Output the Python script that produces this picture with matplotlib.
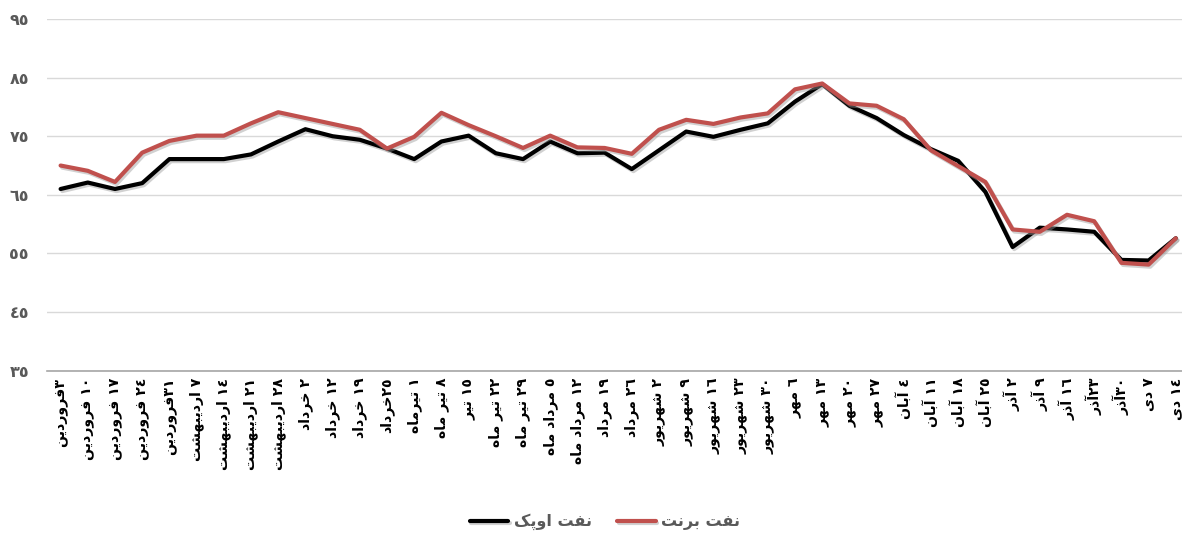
import re
import numpy as np
import matplotlib
matplotlib.use("Agg")
import matplotlib.pyplot as plt
import matplotlib.patheffects as pe

# weekly dates (1400), logical order
dates = [
    "٣فروردین", "١٠ فروردین", "١٧ فروردین", "٢٤ فروردین", "٣١فروردین",
    "٧ اردیبهشت", "١٤ اردیبهشت", "٢١ اردیبهشت", "٢٨ اردیبهشت",
    "٢ خرداد", "١٢ خرداد", "١٩ خرداد", "٢٥خرداد",
    "١ تیرماه", "٨ تیر ماه", "١٥ تیر", "٢٢ تیر ماه", "٢٩ تیر ماه",
    "٥ مرداد ماه", "١٢ مرداد ماه", "١٩ مرداد", "٢٦ مرداد",
    "٢ شهریور", "٩ شهریور", "١٦ شهریور", "٢٣ شهریور", "٣٠ شهریور",
    "٦ مهر", "١٣ مهر", "٢٠ مهر", "٢٧ مهر",
    "٤ آبان", "١١ آبان", "١٨ آبان", "٢٥ آبان",
    "٢ آذر", "٩ آذر", "١٦ آذر", "٢٣آذر", "٣٠آذر",
    "٧ دی", "١٤ دی",
]

opec = [66.0, 67.1, 66.0, 67.0, 71.1, 71.1, 71.1, 71.9, 74.1, 76.2,
        75.0, 74.4, 72.9, 71.1, 74.1, 75.1, 72.1, 71.1, 74.1, 72.1,
        72.2, 69.4, 72.6, 75.8, 74.9, 76.1, 77.2, 80.9, 83.9, 80.2,
        78.1, 75.2, 72.8, 70.8, 65.5, 56.1, 59.4, 59.1, 58.7, 53.9,
        53.8, 57.6]

brent = [70.0, 69.1, 67.2, 72.2, 74.2, 75.1, 75.1, 77.2, 79.1, 78.1,
         77.1, 76.1, 72.9, 74.9, 79.0, 76.9, 75.0, 73.0, 75.1, 73.1,
         73.0, 72.0, 76.1, 77.8, 77.1, 78.2, 78.9, 83.0, 84.0, 80.6,
         80.2, 77.9, 72.6, 69.9, 67.2, 59.1, 58.7, 61.6, 60.5, 53.4,
         53.1, 57.6]

yticks = [35, 45, 55, 65, 75, 85, 95]
ytick_labels = ["٣٥", "٤٥", "٥٥", "٦٥", "٧٥", "٨٥", "٩٥"]
names = ["نفت اوپک", "نفت برنت"]

# --- minimal persian shaping (matplotlib has no bidi / joining) ---
FORMS = {
    'ا': ('\uFE8D', '\uFE8E', None, None),
    'آ': ('\uFE81', '\uFE82', None, None),
    'ب': ('\uFE8F', '\uFE90', '\uFE91', '\uFE92'),
    'پ': ('\uFB56', '\uFB57', '\uFB58', '\uFB59'),
    'ت': ('\uFE95', '\uFE96', '\uFE97', '\uFE98'),
    'خ': ('\uFEA5', '\uFEA6', '\uFEA7', '\uFEA8'),
    'د': ('\uFEA9', '\uFEAA', None, None),
    'ذ': ('\uFEAB', '\uFEAC', None, None),
    'ر': ('\uFEAD', '\uFEAE', None, None),
    'ز': ('\uFEAF', '\uFEB0', None, None),
    'ش': ('\uFEB5', '\uFEB6', '\uFEB7', '\uFEB8'),
    'ف': ('\uFED1', '\uFED2', '\uFED3', '\uFED4'),
    'م': ('\uFEE1', '\uFEE2', '\uFEE3', '\uFEE4'),
    'ن': ('\uFEE5', '\uFEE6', '\uFEE7', '\uFEE8'),
    'ه': ('\uFEE9', '\uFEEA', '\uFEEB', '\uFEEC'),
    'و': ('\uFEED', '\uFEEE', None, None),
    'ک': ('\uFB8E', '\uFB8F', '\uFB90', '\uFB91'),
    'ی': ('\uFBFC', '\uFBFD', '\uFBFE', '\uFBFF'),
}


def shape(s):
    out = []
    for i, c in enumerate(s):
        if c not in FORMS:
            out.append(c)
            continue
        iso, fin, ini, med = FORMS[c]
        prev = s[i - 1] if i > 0 else None
        nxt = s[i + 1] if i + 1 < len(s) else None
        jp = prev in FORMS and FORMS[prev][2] is not None
        jn = nxt in FORMS and ini is not None
        if jp and jn:
            out.append(med)
        elif jp:
            out.append(fin)
        elif jn:
            out.append(ini)
        else:
            out.append(iso)
    return ''.join(out)


def rtl(s):
    runs = re.findall(r'[\u0660-\u0669]+|[^\u0660-\u0669]+', s)
    vis = []
    for r in reversed(runs):
        if r[0] in '٠١٢٣٤٥٦٧٨٩':
            vis.append(r)
        else:
            vis.append(shape(r)[::-1])
    return ''.join(vis)


plt.rcParams['font.family'] = ['DejaVu Sans']

fig = plt.figure(figsize=(11.82, 5.37), dpi=100)
ax = fig.add_axes([47 / 1182, 1 - 370.7 / 537, 42 * 27.2 / 1182, 351.7 / 537])

x = np.arange(len(dates))
shadow = [pe.SimpleLineShadow(offset=(1.2, -1.5), shadow_color='#999999', alpha=0.45),
          pe.Normal()]
ax.plot(x, opec, color='#000000', lw=3.0, label=rtl(names[0]),
        solid_capstyle='round', path_effects=shadow, zorder=3)
ax.plot(x, brent, color='#C0504D', lw=3.0, label=rtl(names[1]),
        solid_capstyle='round', path_effects=shadow, zorder=4)

ax.set_xlim(-0.5, len(dates) - 0.5)
ax.set_ylim(35, 95)
ax.set_yticks(yticks)
ax.set_yticklabels(ytick_labels, fontsize=11.5, fontweight='bold', color='#595959')
ax.set_xticks(x)
ax.set_xticklabels([rtl(d) for d in dates], rotation=90, fontsize=10.2,
                   fontweight='bold', color='#000000')
ax.tick_params(axis='y', length=0, pad=13)
ax.tick_params(axis='x', length=0, pad=5)

ax.grid(axis='y', color='#D9D9D9', lw=1.0)
ax.set_axisbelow(True)
for s in ['top', 'right', 'left']:
    ax.spines[s].set_visible(False)
ax.spines['bottom'].set_color('#A6A6A6')
ax.spines['bottom'].set_linewidth(1.2)

leg = fig.legend(loc='center', bbox_to_anchor=(605 / 1182, 1 - 522 / 537), ncol=2,
                 frameon=False, handlelength=2.4, handletextpad=0.35,
                 columnspacing=1.6, prop={'size': 11.5, 'weight': 'bold'})
for t in leg.get_texts():
    t.set_color('#595959')

fig.savefig('out.png', dpi=100)
